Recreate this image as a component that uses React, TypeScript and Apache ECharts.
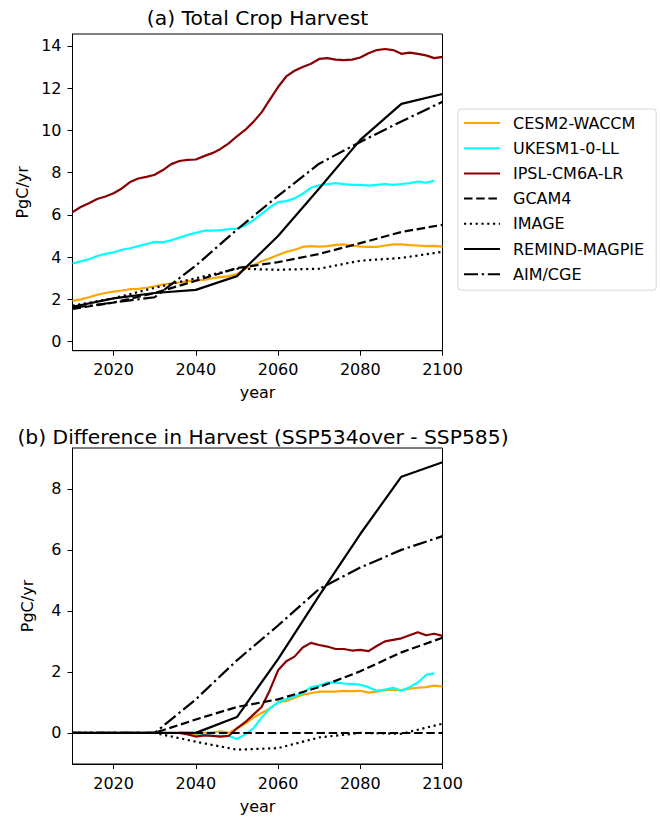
import React, { useEffect, useRef } from "react";
import * as echarts from "echarts";

// ---------- data ----------
const MODEL_YEARS_A = [
  2010, 2012, 2014, 2016, 2018, 2020, 2022, 2024, 2026, 2028, 2030, 2032, 2034, 2036, 2038, 2040,
  2042, 2044, 2046, 2048, 2050, 2052, 2054, 2056, 2058, 2060, 2062, 2064, 2066, 2068, 2070, 2072,
  2074, 2076, 2078, 2080, 2082, 2084, 2086, 2088, 2090, 2092, 2094, 2096, 2098, 2100,
];
const CESM_A = [
  1.93, 2.0, 2.1, 2.22, 2.3, 2.37, 2.42, 2.48, 2.5, 2.55, 2.62, 2.7, 2.75, 2.8, 2.85, 2.9,
  2.92, 3.0, 3.05, 3.1, 3.2, 3.45, 3.62, 3.8, 3.95, 4.1, 4.25, 4.35, 4.48, 4.52, 4.5, 4.52,
  4.58, 4.6, 4.55, 4.5, 4.48, 4.48, 4.55, 4.6, 4.6, 4.57, 4.55, 4.52, 4.53, 4.5,
];
const UKESM_A = [
  3.7, 3.8, 3.9, 4.05, 4.15, 4.22, 4.35, 4.42, 4.52, 4.62, 4.72, 4.7, 4.8, 4.92, 5.05, 5.15,
  5.25, 5.25, 5.28, 5.32, 5.35, 5.5, 5.75, 6.05, 6.35, 6.6, 6.65, 6.78, 7.0, 7.28, 7.4, 7.45,
  7.5, 7.45, 7.42, 7.42, 7.38, 7.42, 7.46, 7.42, 7.46, 7.5, 7.58, 7.52, 7.62, null,
];
const IPSL_A = [
  6.13, 6.37, 6.55, 6.75, 6.87, 7.02, 7.25, 7.55, 7.72, 7.8, 7.9, 8.12, 8.4, 8.55, 8.6, 8.62,
  8.78, 8.92, 9.12, 9.38, 9.72, 10.02, 10.4, 10.85, 11.45, 12.05, 12.55, 12.82, 13.0, 13.15, 13.38, 13.42,
  13.35, 13.32, 13.35, 13.45, 13.65, 13.8, 13.85, 13.8, 13.62, 13.68, 13.62, 13.55, 13.42, 13.48,
];

const IAM_YEARS = [2010, 2020, 2030, 2040, 2050, 2060, 2070, 2080, 2090, 2100];
const GCAM_A = [1.55, 1.85, 2.3, 2.88, 3.48, 3.76, 4.15, 4.66, 5.19, 5.53];
const IMAGE_A = [1.7, 2.05, 2.55, 3.0, 3.45, 3.4, 3.45, 3.83, 3.96, 4.25];
const REMIND_A = [1.65, 2.05, 2.3, 2.45, 3.1, 5.0, 7.25, 9.55, 11.25, 11.72];
const AIM_A = [1.6, 1.85, 2.1, 3.6, 5.3, 6.9, 8.42, 9.45, 10.42, 11.35];

const MODEL_YEARS_B = [
  2036, 2038, 2040, 2042, 2044, 2046, 2048, 2050, 2052, 2054, 2056, 2058, 2060, 2062, 2064, 2066,
  2068, 2070, 2072, 2074, 2076, 2078, 2080, 2082, 2084, 2086, 2088, 2090, 2092, 2094, 2096, 2098, 2100,
];
const CESM_B = [
  0, 0, -0.05, 0, 0.02, 0.05, 0.0, 0.15, 0.3, 0.5, 0.65, 0.8, 1.0, 1.05, 1.15, 1.25,
  1.3, 1.35, 1.35, 1.35, 1.38, 1.37, 1.38, 1.32, 1.35, 1.4, 1.42, 1.4, 1.45, 1.48, 1.5, 1.55, 1.52,
];
const UKESM_B = [
  0, 0, 0, -0.05, -0.1, -0.1, -0.1, -0.2, -0.05, 0.15, 0.5, 0.8, 1.0, 1.1, 1.2, 1.3,
  1.5, 1.55, 1.65, 1.65, 1.62, 1.6, 1.58, 1.5, 1.38, 1.42, 1.48, 1.38, 1.5, 1.65, 1.9, 1.95, null,
];
const IPSL_B = [
  0, -0.05, -0.12, -0.08, -0.1, -0.12, -0.1, 0.15, 0.35, 0.6, 0.85, 1.4, 2.05, 2.35, 2.5, 2.8,
  2.95, 2.88, 2.83, 2.75, 2.75, 2.7, 2.72, 2.68, 2.85, 3.0, 3.05, 3.1, 3.2, 3.3, 3.2, 3.25, 3.18,
];
const GCAM_B = [0, 0, 0, 0.44, 0.85, 1.1, 1.5, 2.02, 2.64, 3.12];
const IMAGE_B = [0, 0, 0, -0.29, -0.55, -0.5, -0.15, 0.0, -0.03, 0.3];
const REMIND_B = [0, 0, 0, 0, 0.52, 2.42, 4.5, 6.52, 8.4, 8.87];
const AIM_B = [0, 0, 0, 1.1, 2.38, 3.52, 4.72, 5.42, 6.0, 6.45];

const X_TICKS = [2020, 2040, 2060, 2080, 2100];
const Y_TICKS_A = [0, 2, 4, 6, 8, 10, 12, 14];
const Y_TICKS_B = [0, 2, 4, 6, 8];

const NAMES = ["CESM2-WACCM", "UKESM1-0-LL", "IPSL-CM6A-LR", "GCAM4", "IMAGE", "REMIND-MAGPIE", "AIM/CGE"];
const TITLE_A = "(a) Total Crop Harvest";
const TITLE_B = "(b) Difference in Harvest (SSP534over - SSP585)";

// ---------- styles ----------
const FONT = "DejaVu Sans";
const LW = 2.2;
const DASHED = [8.5, 3.7];
const DOTTED = [2.2, 3.6];
const DASHDOT = [14, 3.7, 2.4, 3.7];

const pairs = (xs: number[], ys: (number | null)[]) =>
  xs.map((x, i) => [x, ys[i]]).filter((p) => p[1] !== null);

function App() {
  const ref = useRef<HTMLDivElement>(null);

  useEffect(() => {
    document.body.style.margin = "0";
    const chart = echarts.init(ref.current!, undefined, { renderer: "svg" });

    const mkLine = (
      name: string,
      idx: number,
      data: any[],
      color: string,
      type: any,
      extra: any = {}
    ) => ({
      name,
      type: "line",
      xAxisIndex: idx,
      yAxisIndex: idx,
      data,
      symbol: "none",
      showSymbol: false,
      connectNulls: false,
      lineStyle: { color, width: LW, type, cap: "butt", join: "round" },
      itemStyle: { color },
      emphasis: { disabled: true },
      ...extra,
    });

    const xAxisCommon = (gridIndex: number) => ({
      type: "value",
      gridIndex,
      min: 2010,
      max: 2100,
      name: "year",
      nameLocation: "middle",
      nameGap: 34,
      nameTextStyle: { fontFamily: FONT, fontSize: 16, color: "#000" },
      axisLine: { show: true, onZero: false, lineStyle: { color: "#000", width: 1 } },
      axisTick: { show: true, length: 5, customValues: X_TICKS, lineStyle: { color: "#000" } },
      axisLabel: {
        customValues: X_TICKS,
        formatter: (v: number) => String(v),
        margin: 11,
        fontFamily: FONT,
        fontSize: 16,
        color: "#000",
      },
      splitLine: { show: false },
    });

    const yAxisCommon = (gridIndex: number, min: number, max: number, ticks: number[]) => ({
      type: "value",
      gridIndex,
      min,
      max,
      name: "PgC/yr",
      nameLocation: "middle",
      nameGap: 37,
      nameRotate: 90,
      nameTextStyle: { fontFamily: FONT, fontSize: 16, color: "#000" },
      axisLine: { show: true, onZero: false, lineStyle: { color: "#000", width: 1 } },
      axisTick: { show: true, length: 5, customValues: ticks, lineStyle: { color: "#000" } },
      axisLabel: {
        customValues: ticks,
        formatter: (v: number) => String(v),
        margin: 11,
        fontFamily: FONT,
        fontSize: 16,
        color: "#000",
      },
      splitLine: { show: false },
    });

    const option: any = {
      animation: false,
      backgroundColor: "#fff",
      textStyle: { fontFamily: FONT },
      grid: [
        { left: 72.5, top: 34, width: 370, height: 316.7, show: true, borderColor: "#000", borderWidth: 1, backgroundColor: "transparent" },
        { left: 72.5, top: 448, width: 370, height: 316, show: true, borderColor: "#000", borderWidth: 1, backgroundColor: "transparent" },
      ],
      xAxis: [xAxisCommon(0), xAxisCommon(1)],
      yAxis: [yAxisCommon(0, -0.43, 14.56, Y_TICKS_A), yAxisCommon(1, -1.02, 9.34, Y_TICKS_B)],
      legend: {
        data: NAMES,
        orient: "vertical",
        left: 458,
        top: 109,
        padding: [6, 12, 8, 5],
        itemWidth: 36,
        itemHeight: 14,
        itemGap: 9.2,
        selectedMode: false,
        backgroundColor: "#fff",
        borderColor: "#d5d5d5",
        borderWidth: 1,
        borderRadius: 3,
        itemStyle: { opacity: 0, borderWidth: 0 },
        textStyle: {
          fontFamily: FONT,
          fontSize: 16,
          color: "#000",
          lineHeight: 16,
          padding: [0, 0, 0, 8],
        },
      },
      graphic: [
        {
          type: "text",
          x: 257.5,
          y: 18,
          style: {
            text: TITLE_A,
            fontFamily: FONT,
            fontSize: 20.3,
            fill: "#000",
            textAlign: "center",
            textVerticalAlign: "middle",
          },
        },
        {
          type: "text",
          x: 263,
          y: 437,
          style: {
            text: TITLE_B,
            fontFamily: FONT,
            fontSize: 20.3,
            fill: "#000",
            textAlign: "center",
            textVerticalAlign: "middle",
          },
        },
      ],
      series: [
        mkLine(NAMES[0], 0, pairs(MODEL_YEARS_A, CESM_A), "#FFA500", "solid"),
        mkLine(NAMES[1], 0, pairs(MODEL_YEARS_A, UKESM_A), "#00FFFF", "solid"),
        mkLine(NAMES[2], 0, pairs(MODEL_YEARS_A, IPSL_A), "#8B0000", "solid"),
        mkLine(NAMES[3], 0, pairs(IAM_YEARS, GCAM_A), "#000", DASHED),
        mkLine(NAMES[4], 0, pairs(IAM_YEARS, IMAGE_A), "#000", DOTTED),
        mkLine(NAMES[5], 0, pairs(IAM_YEARS, REMIND_A), "#000", "solid"),
        mkLine(NAMES[6], 0, pairs(IAM_YEARS, AIM_A), "#000", DASHDOT),

        mkLine(NAMES[0], 1, pairs(MODEL_YEARS_B, CESM_B), "#FFA500", "solid"),
        mkLine(NAMES[1], 1, pairs(MODEL_YEARS_B, UKESM_B), "#00FFFF", "solid"),
        mkLine(NAMES[2], 1, pairs(MODEL_YEARS_B, IPSL_B), "#8B0000", "solid"),
        mkLine(NAMES[3], 1, pairs(IAM_YEARS, GCAM_B), "#000", DASHED, {
          markLine: {
            silent: true,
            symbol: "none",
            label: { show: false },
            lineStyle: { color: "#000", width: LW, type: DASHED },
            data: [{ yAxis: 0 }],
          },
        }),
        mkLine(NAMES[4], 1, pairs(IAM_YEARS, IMAGE_B), "#000", DOTTED),
        mkLine(NAMES[5], 1, pairs(IAM_YEARS, REMIND_B), "#000", "solid"),
        mkLine(NAMES[6], 1, pairs(IAM_YEARS, AIM_B), "#000", DASHDOT),
      ],
    };

    chart.setOption(option);
    return () => chart.dispose();
  }, []);

  return <div ref={ref} style={{ width: 661, height: 818 }} />;
}

export default App;
